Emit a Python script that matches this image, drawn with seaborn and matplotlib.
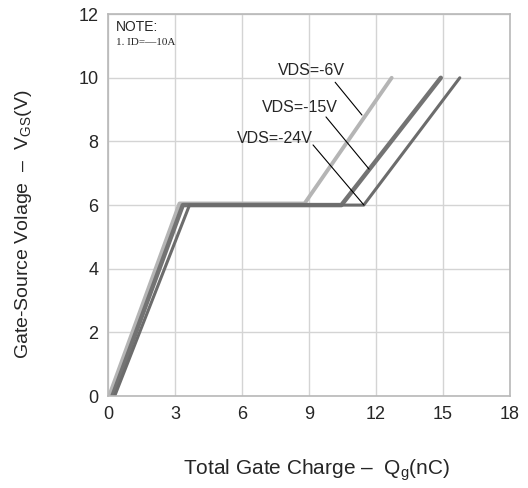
import pandas as pd
import numpy as np
import matplotlib
matplotlib.use("Agg")
import matplotlib.pyplot as plt
import seaborn as sns

# gate charge curves
qg_6v = [0.05, 3.2, 8.8, 12.7]
vgs_6v = [0, 6.05, 6.05, 10]
qg_15v = [0.2, 3.35, 10.45, 14.9]
vgs_15v = [0, 6.0, 6.0, 10]
qg_24v = [0.3, 3.65, 11.45, 15.75]
vgs_24v = [0, 6.0, 6.0, 10]

series_names = ["VDS=-6V", "VDS=-15V", "VDS=-24V"]
x_ticks = [0, 3, 6, 9, 12, 15, 18]
y_ticks = [0, 2, 4, 6, 8, 10, 12]

sns.set_style("white")
plt.rcParams['font.family'] = ['Liberation Sans', 'DejaVu Sans']
plt.rcParams['mathtext.fontset'] = 'custom'
plt.rcParams['mathtext.rm'] = 'Liberation Sans'

df = pd.concat([
    pd.DataFrame({"qg": qg_6v, "vgs": vgs_6v, "series": series_names[0]}),
    pd.DataFrame({"qg": qg_15v, "vgs": vgs_15v, "series": series_names[1]}),
    pd.DataFrame({"qg": qg_24v, "vgs": vgs_24v, "series": series_names[2]}),
])

colors = {"VDS=-6V": "#b5b5b5", "VDS=-15V": "#737373", "VDS=-24V": "#6c6c6c"}
widths = {"VDS=-6V": 2.8, "VDS=-15V": 3.2, "VDS=-24V": 2.2}

fig = plt.figure(figsize=(5.28, 4.88), dpi=100)
ax = fig.add_axes([0.2045, 0.1885, 0.7615, 0.7825])

for name in series_names:
    sub = df[df["series"] == name]
    sns.lineplot(data=sub, x="qg", y="vgs", ax=ax, sort=False, color=colors[name],
                 linewidth=widths[name], legend=False)

ax.set_xlim(0, 18)
ax.set_ylim(0, 12)
ax.set_xticks(x_ticks)
ax.set_yticks(y_ticks)
ax.tick_params(length=0, labelsize=13, pad=7)
ax.grid(True, color="#d4d4d4", linewidth=1)
for s in ax.spines.values():
    s.set_color("#b8b8b8")
    s.set_linewidth(1.2)

ax.set_xlabel("Total Gate Charge –  Q$_{\\rm g}$(nC)", fontsize=15)
ax.set_ylabel("Gate-Source Volage  –  V$_{\\rm GS}$(V)", fontsize=14)
ax.xaxis.set_label_coords(0.52, -0.16)
ax.yaxis.set_label_coords(-0.184, 0.45)

# annotations with leader lines
ax.text(9.13, 10.24, "VDS=-6V", ha="center", va="center", fontsize=11.5)
ax.plot([10.17, 11.37], [9.86, 8.83], color="black", linewidth=0.8)
ax.text(8.6, 9.08, "VDS=-15V", ha="center", va="center", fontsize=11.5)
ax.plot([9.76, 11.69], [8.77, 7.13], color="black", linewidth=0.8)
ax.text(7.48, 8.1, "VDS=-24V", ha="center", va="center", fontsize=11.5)
ax.plot([9.18, 11.46], [7.89, 6.0], color="black", linewidth=0.8)

ax.text(0.35, 11.6, "NOTE:", ha="left", va="center", fontsize=10)
ax.text(0.35, 11.1, "1. ID=—10A", ha="left", va="center", fontsize=8,
        family=["Liberation Serif", "DejaVu Serif"])

fig.savefig("out.png", dpi=100)
